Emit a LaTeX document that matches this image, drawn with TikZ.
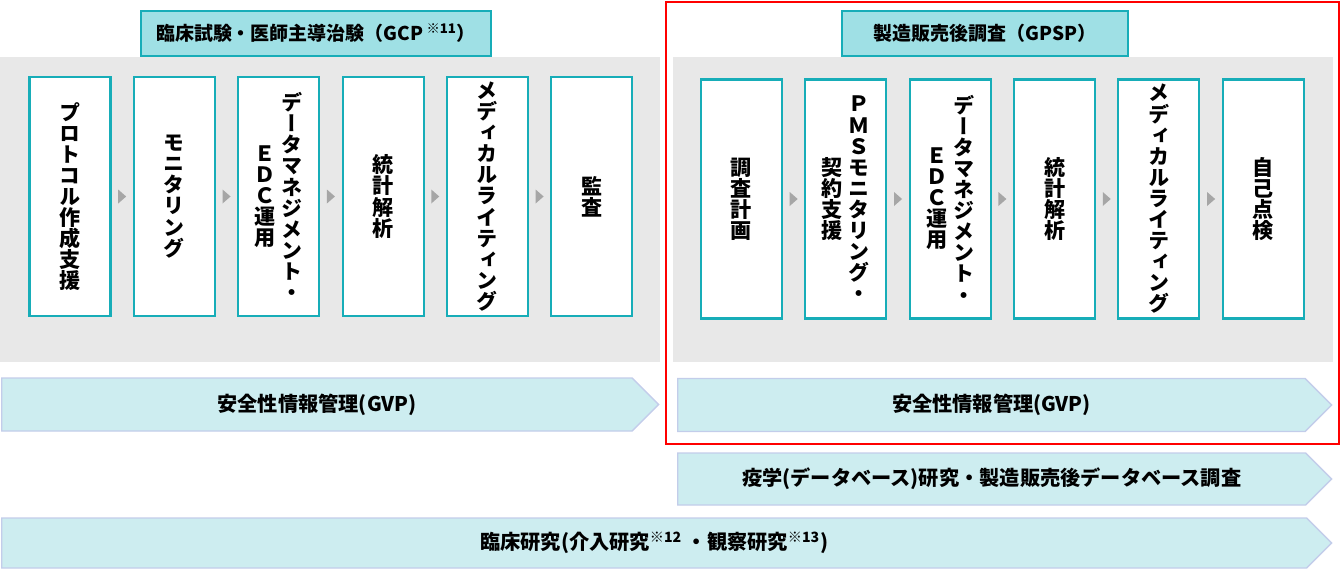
\documentclass[tikz,border=0pt]{standalone}
\usepackage{fontspec}
\setmainfont{Noto Sans CJK JP}
\newfontfamily\tatefont[RawFeature=+vert]{Noto Sans CJK JP}
\usetikzlibrary{positioning,calc,shapes.symbols}

\definecolor{boxline}{HTML}{17ADB8}
\definecolor{titlefill}{HTML}{9FE0E5}
\definecolor{panelgray}{HTML}{E8E8E8}
\definecolor{bandfill}{HTML}{CDEDF0}
\definecolor{bandline}{HTML}{C3CDEA}
\definecolor{framered}{HTML}{FF0000}
\definecolor{tipgray}{HTML}{A6A6A6}

% one column of vertical text, centred on the axis
\newcommand{\tate}[1]{$\vcenter{\hsize=1.1em\baselineskip=12pt\lineskiplimit=-\maxdimen\centering #1\par}$}

\begin{document}
\begin{tikzpicture}[
  panel/.style={fill=panelgray, inner sep=0pt, anchor=north west},
  titlebox/.style={draw=boxline, fill=titlefill, line width=1.1pt, minimum height=0.9cm, anchor=south, font=\bfseries\fontsize{10.8}{12}\selectfont},
  stepbox/.style={draw=boxline, fill=white, line width=1.2pt, minimum width=1.62cm, minimum height=4.78cm, inner sep=0pt, font=\tatefont\fontsize{12}{12}\bfseries},
  band/.style={signal, signal to=east, signal pointer angle=90, fill=bandfill, draw=bandline, line width=0.8pt, inner sep=0pt, anchor=west, font=\bfseries\fontsize{11.5}{12}\selectfont},
  node distance=0.425cm
]
  \useasboundingbox (0,0) rectangle (26.86,-11.4);

  % clinical trials (left)
  \node[panel, minimum width=13.2cm, minimum height=6.1cm] (lpanel) at (0,-1.14) {};
  \node[titlebox, minimum width=7cm] (ltitle) at (6.32,-1.14) {臨床試験・医師主導治験（GCP\,\textsuperscript{※11}）};
  \node[stepbox] (l1) at (1.40,-3.93) {\tate{プ\\ロ\\ト\\コ\\ル\\作\\成\\支\\援}};
  \node[stepbox, right=of l1] (l2) {\tate{モ\\ニ\\タ\\リ\\ン\\グ}};
  \node[stepbox, right=of l2] (l3) {\tate{Ｅ\\Ｄ\\Ｃ\\運\\用}\hspace{2pt}\tate{デ\\ー\\タ\\マ\\ネ\\ジ\\メ\\ン\\ト\\・}};
  \node[stepbox, right=of l3] (l4) {\tate{統\\計\\解\\析}};
  \node[stepbox, right=of l4] (l5) {\tate{メ\\デ\\ィ\\カ\\ル\\ラ\\イ\\テ\\ィ\\ン\\グ}};
  \node[stepbox, right=of l5] (l6) {\tate{監\\査}};

  % post-marketing surveillance (right)
  \node[panel, minimum width=13.2cm, minimum height=6.1cm] (rpanel) at (13.46,-1.14) {};
  \node[titlebox, minimum width=5.72cm] (rtitle) at (19.7,-1.14) {製造販売後調査（GPSP）};
  \node[stepbox] (r1) at (14.83,-3.98) {\tate{調\\査\\計\\画}};
  \node[stepbox, right=of r1] (r2) {\tate{契\\約\\支\\援}\hspace{2pt}\tate{Ｐ\\Ｍ\\Ｓ\\モ\\ニ\\タ\\リ\\ン\\グ\\・}};
  \node[stepbox, right=of r2] (r3) {\tate{Ｅ\\Ｄ\\Ｃ\\運\\用}\hspace{2pt}\tate{デ\\ー\\タ\\マ\\ネ\\ジ\\メ\\ン\\ト\\・}};
  \node[stepbox, right=of r3] (r4) {\tate{統\\計\\解\\析}};
  \node[stepbox, right=of r4] (r5) {\tate{メ\\デ\\ィ\\カ\\ル\\ラ\\イ\\テ\\ィ\\ン\\グ}};
  \node[stepbox, right=of r5] (r6) {\tate{自\\己\\点\\検}};

  \foreach \a/\b in {l1/l2,l2/l3,l3/l4,l4/l5,l5/l6,r1/r2,r2/r3,r3/r4,r4/r5,r5/r6}
    \fill[tipgray] ($(\a.east)!0.5!(\b.west)$) ++(-0.08,0.14) -- ++(0.16,-0.14) -- ++(-0.16,-0.14) -- cycle;

  % bands
  \node[band, minimum width=13.14cm, minimum height=1.06cm] (lgvp) at (0.02,-8.09) {安全性情報管理(GVP)};
  \node[band, minimum width=13.08cm, minimum height=1.06cm] (rgvp) at (13.54,-8.1) {安全性情報管理(GVP)};
  \node[band, minimum width=13.08cm, minimum height=1.04cm] (epi) at (13.54,-9.58) {疫学(データベース)研究・製造販売後データベース調査};
  \node[band, minimum width=26.6cm, minimum height=1.0cm] (clin) at (0.02,-10.86) {臨床研究(介入研究\textsuperscript{※12}\ ・観察研究\textsuperscript{※13})};

  \draw[framered, line width=1.6pt] (13.32,-0.04) rectangle (26.78,-8.88);
\end{tikzpicture}
\end{document}
